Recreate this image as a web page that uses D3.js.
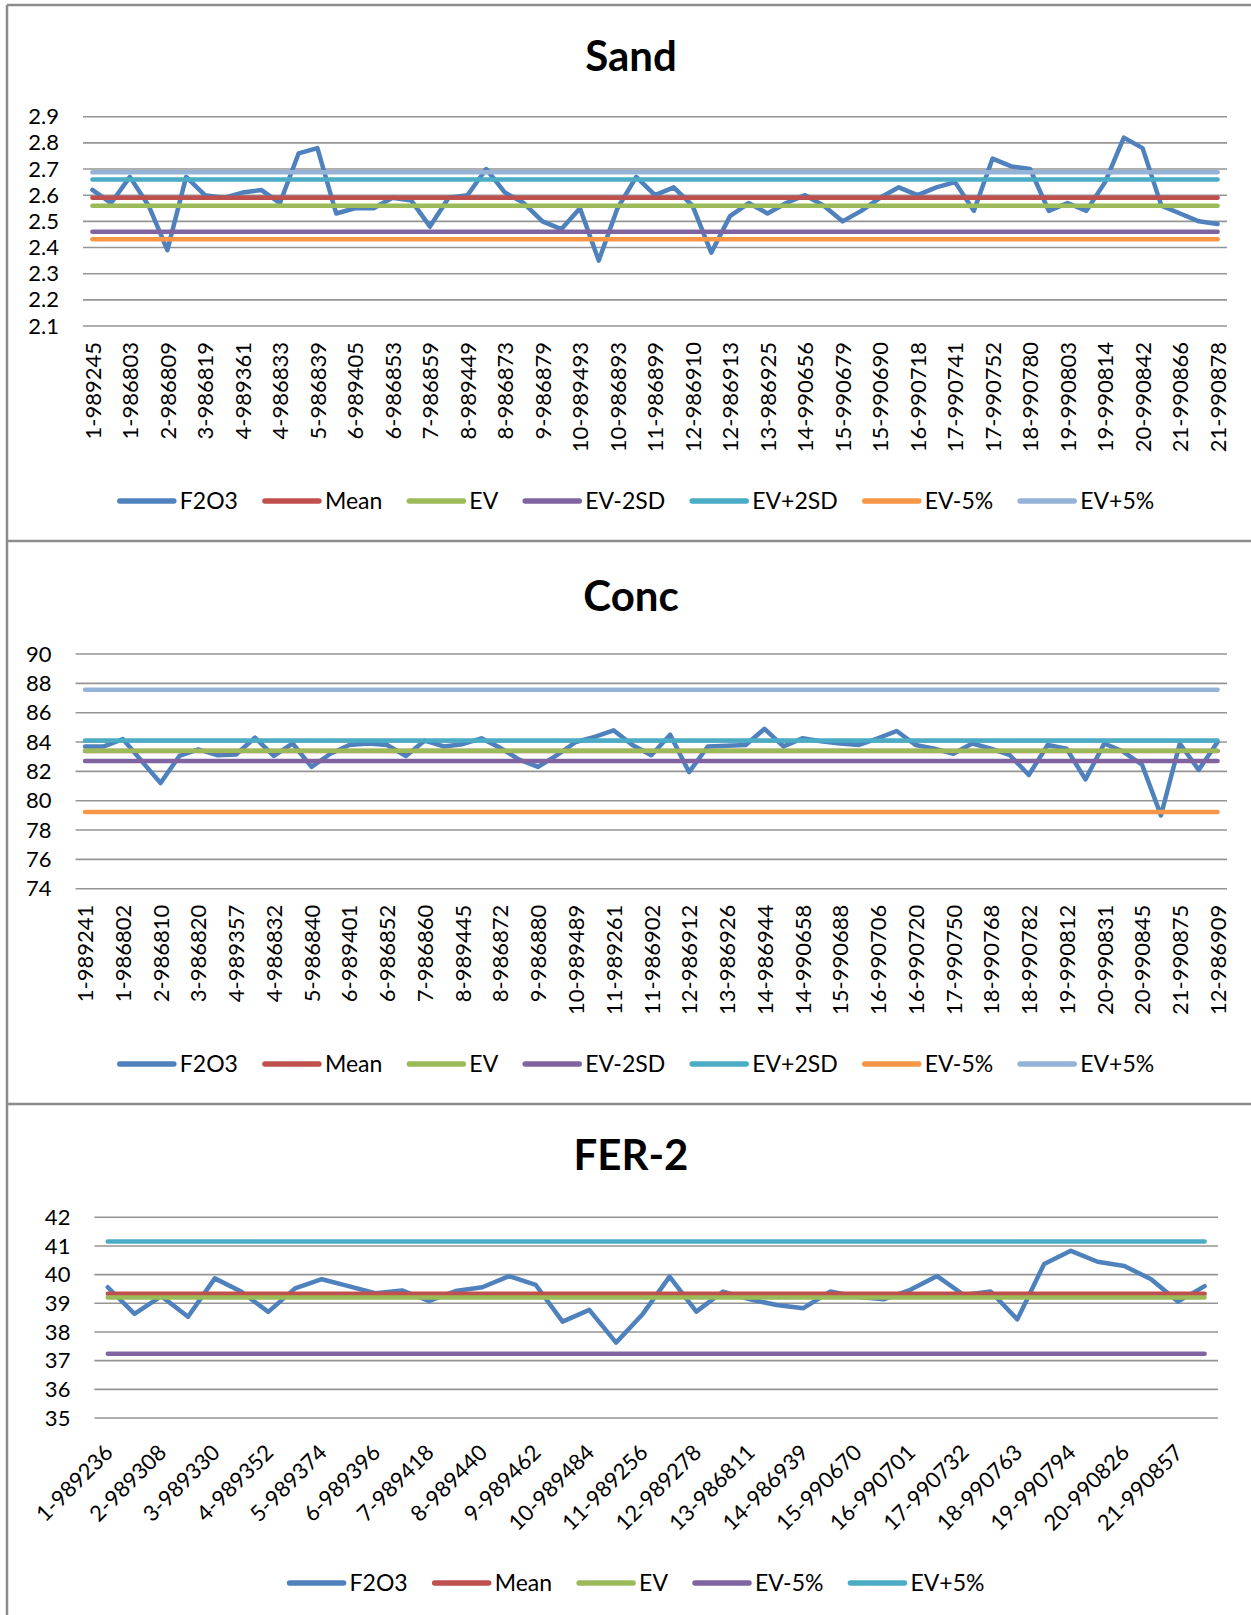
<!DOCTYPE html>
<html>
<head>
<meta charset="utf-8">
<script src="https://cdn.jsdelivr.net/npm/d3@7"></script>
<style>
  html, body { margin: 0; padding: 0; background: #fff; }
  svg { display: block; font-family: Lato, "Open Sans", sans-serif; }
</style>
</head>
<body>
<script>
// ---- Sand ----
const sandLabels = ["1-989245","1-986803","2-986809","3-986819","4-989361","4-986833","5-986839","6-989405","6-986853","7-986859","8-989449","8-986873","9-986879","10-989493","10-986893","11-986899","12-986910","12-986913","13-986925","14-990656","15-990679","15-990690","16-990718","17-990741","17-990752","18-990780","19-990803","19-990814","20-990842","21-990866","21-990878"];
const sandF2O3 = [2.62,2.57,2.67,2.56,2.39,2.67,2.60,2.59,2.61,2.62,2.57,2.76,2.78,2.53,2.55,2.55,2.59,2.58,2.48,2.59,2.60,2.70,2.61,2.57,2.50,2.47,2.55,2.35,2.55,2.67,2.60,2.63,2.56,2.38,2.52,2.57,2.53,2.57,2.60,2.56,2.50,2.54,2.59,2.63,2.60,2.63,2.65,2.54,2.74,2.71,2.70,2.54,2.57,2.54,2.65,2.82,2.78,2.56,2.53,2.50,2.49];
const sandLimits = [2.59, 2.56, 2.46, 2.66, 2.432, 2.688];   // Mean, EV, EV-2SD, EV+2SD, EV-5%, EV+5%
const sandTicks = [2.1,2.2,2.3,2.4,2.5,2.6,2.7,2.8,2.9];

// ---- Conc ----
const concLabels = ["1-989241","1-986802","2-986810","3-986820","4-989357","4-986832","5-986840","6-989401","6-986852","7-986860","8-989445","8-986872","9-986880","10-989489","11-989261","11-986902","12-986912","13-986926","14-986944","14-990658","15-990688","16-990706","16-990720","17-990750","18-990768","18-990782","19-990812","20-990831","20-990845","21-990875","12-986909"];
const concF2O3 = [83.7,83.7,84.2,82.7,81.2,83.05,83.5,83.1,83.15,84.3,83.05,83.9,82.3,83.2,83.8,83.9,83.8,83.05,84.1,83.7,83.85,84.25,83.6,82.8,82.3,83.1,84.0,84.35,84.8,83.8,83.1,84.5,81.95,83.7,83.75,83.8,84.9,83.7,84.25,84.05,83.9,83.8,84.25,84.75,83.8,83.55,83.2,83.9,83.55,83.1,81.75,83.8,83.55,81.45,83.9,83.35,82.45,79.0,83.9,82.1,84.0];
const concLimits = [83.38, 83.4, 82.7, 84.1, 79.23, 87.57];  // Mean, EV, EV-2SD, EV+2SD, EV-5%, EV+5%
const concTicks = [74,76,78,80,82,84,86,88,90];

// ---- FER-2 ----
const ferLabels = ["1-989236","2-989308","3-989330","4-989352","5-989374","6-989396","7-989418","8-989440","9-989462","10-989484","11-989256","12-989278","13-986811","14-986939","15-990670","16-990701","17-990732","18-990763","19-990794","20-990826","21-990857"];
const ferF2O3 = [39.56,38.63,39.25,38.53,39.87,39.4,38.7,39.52,39.84,39.6,39.35,39.45,39.08,39.43,39.56,39.95,39.64,38.36,38.77,37.63,38.63,39.93,38.71,39.41,39.14,38.94,38.83,39.41,39.23,39.14,39.47,39.95,39.29,39.41,38.44,40.37,40.83,40.45,40.3,39.84,39.06,39.6];
const ferLimits = [39.33, 39.2, 37.24, 41.16];               // Mean, EV, EV-5%, EV+5%
const ferTicks = [35,36,37,38,39,40,41,42];

const seriesNames7 = ["F2O3","Mean","EV","EV-2SD","EV+2SD","EV-5%","EV+5%"];
const seriesNames5 = ["F2O3","Mean","EV","EV-5%","EV+5%"];
const palette = ["#4F81BD","#C0504D","#9BBB59","#8064A2","#4BACC6","#F79646","#95B3D7"];

const W = 1251, H = 1615;
const svg = d3.select("body").append("svg").attr("width", W).attr("height", H);

// outer frame and panel separators
const frame = svg.append("g").attr("stroke", "#8c8c8c").attr("stroke-width", 2.5);
frame.append("line").attr("x1", 7).attr("x2", W).attr("y1", 5).attr("y2", 5);
frame.append("line").attr("x1", 7).attr("x2", 7).attr("y1", 5).attr("y2", H);
[541, 1104].forEach(y => frame.append("line").attr("x1", 7).attr("x2", W).attr("y1", y).attr("y2", y));

function drawPanel(cfg) {
  const g = svg.append("g");
  const n = cfg.values.length;

  g.append("text").attr("x", 631).attr("y", cfg.titleY)
    .attr("text-anchor", "middle").attr("font-weight", 700).attr("font-size", 42)
    .attr("fill", "#000").text(cfg.title);

  const x = d3.scalePoint().domain(d3.range(n)).range([cfg.left, cfg.right]).padding(0.5);
  const y = d3.scaleLinear().domain(d3.extent(cfg.ticks)).range([cfg.bottom, cfg.top]);

  // horizontal gridlines
  g.append("g").selectAll("line").data(cfg.ticks).join("line")
    .attr("x1", cfg.left).attr("x2", cfg.right)
    .attr("y1", d => y(d)).attr("y2", d => y(d))
    .attr("stroke", "#959595").attr("stroke-width", 1.6);

  // value axis
  const yAxis = g.append("g").attr("transform", `translate(${cfg.left - 24},0)`)
    .call(d3.axisLeft(y).tickValues(cfg.ticks).tickFormat(cfg.fmt).tickSize(0).tickPadding(0));
  yAxis.select(".domain").remove();
  yAxis.selectAll("text").attr("font-size", 22).attr("fill", "#000").attr("font-family", "Lato, 'Open Sans', sans-serif");

  // category axis: every other category is labelled
  const tickIdx = cfg.labels.map((_, k) => 2 * k);
  const xAxis = g.append("g").attr("transform", `translate(0,${cfg.bottom})`)
    .call(d3.axisBottom(x).tickValues(tickIdx).tickFormat(i => cfg.labels[i / 2]).tickSize(0));
  xAxis.select(".domain").remove();
  const xt = xAxis.selectAll("text").attr("font-size", 22).attr("fill", "#000")
    .attr("font-family", "Lato, 'Open Sans', sans-serif").attr("text-anchor", "end");
  if (cfg.rotate === -90) {
    xt.attr("transform", "rotate(-90)").attr("x", -16).attr("y", 0).attr("dy", "0.35em");
  } else {
    xt.attr("transform", "translate(6,36) rotate(-45)").attr("x", 0).attr("y", 0).attr("dy", "0em");
  }

  // series: measured values first, limit lines on top
  const line = d3.line().x(d => x(d[0])).y(d => y(d[1]));
  const series = [cfg.values.map((v, i) => [i, v])]
    .concat(cfg.limits.map(v => [[0, v], [n - 1, v]]));
  g.append("g").selectAll("path").data(series).join("path")
    .attr("d", line).attr("fill", "none")
    .attr("stroke", (d, i) => palette[cfg.colorIdx[i]])
    .attr("stroke-width", 4.5).attr("stroke-linejoin", "round").attr("stroke-linecap", "round");

  // legend, centred
  const gap = 27;
  const lg = g.append("g");
  const items = lg.selectAll("g").data(cfg.names).join("g");
  items.append("line").attr("x1", 0).attr("x2", 54).attr("y1", 0).attr("y2", 0)
    .attr("stroke", (d, i) => palette[cfg.colorIdx[i]]).attr("stroke-width", 5.5).attr("stroke-linecap", "round");
  items.append("text").attr("x", 60).attr("y", 0).attr("dy", "0.35em")
    .attr("font-size", 23).attr("fill", "#000").text(d => d);
  let cx = 0;
  items.each(function () {
    const w = 60 + this.querySelector("text").getComputedTextLength();
    d3.select(this).attr("transform", `translate(${cx},0)`);
    cx += w + gap;
  });
  const total = cx - gap;
  lg.attr("transform", `translate(${637 - total / 2},${cfg.legendY})`);
}

drawPanel({
  title: "Sand", titleY: 71, left: 83, right: 1227, top: 116.7, bottom: 326,
  ticks: sandTicks, fmt: d3.format(".1f"), values: sandF2O3, limits: sandLimits,
  labels: sandLabels, rotate: -90, legendY: 501, names: seriesNames7, colorIdx: [0,1,2,3,4,5,6]
});
drawPanel({
  title: "Conc", titleY: 611, left: 75.6, right: 1227, top: 654, bottom: 888.7,
  ticks: concTicks, fmt: d3.format("d"), values: concF2O3, limits: concLimits,
  labels: concLabels, rotate: -90, legendY: 1064, names: seriesNames7, colorIdx: [0,1,2,3,4,5,6]
});
drawPanel({
  title: "FER-2", titleY: 1170, left: 94.4, right: 1218, top: 1217.3, bottom: 1418,
  ticks: ferTicks, fmt: d3.format("d"), values: ferF2O3, limits: ferLimits,
  labels: ferLabels, rotate: -45, legendY: 1583, names: seriesNames5, colorIdx: [0,1,2,3,4]
});
</script>
</body>
</html>
